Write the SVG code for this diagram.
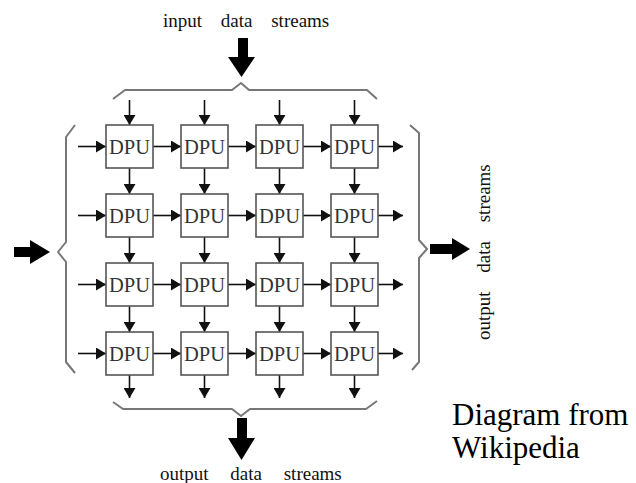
<svg xmlns="http://www.w3.org/2000/svg" width="636" height="483" viewBox="0 0 636 483">
<style>
.box{fill:#fff;stroke:#555;stroke-width:1.6}
.lbl{font-family:"Liberation Serif","Times New Roman","DejaVu Serif",serif;font-size:22px;fill:#333;text-anchor:middle}
.arr{stroke:#111;stroke-width:1.6;fill:none;marker-end:url(#ah)}
.brace{stroke:#777;stroke-width:2;fill:none;stroke-linejoin:round}
.big{fill:#000}
.cap{font-family:"Liberation Serif","Times New Roman","DejaVu Serif",serif;font-size:19px;fill:#111;word-spacing:14px}
.note{font-family:"Liberation Serif","Times New Roman","DejaVu Serif",serif;font-size:31px;fill:#000}
</style>
<defs>
<marker id="ah" markerUnits="userSpaceOnUse" markerWidth="11" markerHeight="12" refX="10" refY="6" orient="auto">
<path d="M0,0 L10,6 L0,12 Z" fill="#111"/>
</marker>
</defs>
<rect width="636" height="483" fill="#fff"/>

<text class="cap" x="163" y="27">input data streams</text>
<text class="cap" x="160" y="480" style="word-spacing:17px">output data streams</text>
<text class="cap" transform="translate(490,340) rotate(-90)">output data streams</text>
<text class="note" x="452" y="425">Diagram from</text>
<text class="note" x="452" y="458">Wikipedia</text>

<g id="bigarrows">
<polygon class="big" points="238,38 248,38 248,57 255,57 241.5,77 228,57 238,57"/>
<polygon class="big" points="237,418 247,418 247,438 255,438 241.5,460 228,438 237,438"/>
<polygon class="big" points="14,247 30,247 30,240 50,252 30,264 30,257 14,257"/>
<polygon class="big" points="430,244 452,244 452,238 470,249 452,260 452,254 430,254"/>
</g>

<g id="braces">
<path class="brace" d="M113,99 L125,90 L232,90 L241,83 L249,90 L367,90 L377,99"/>
<path class="brace" d="M113,402 L123,409 L232,409 L241,416 L250,409 L366,409 L377,401"/>
<path class="brace" d="M75,125 L66,137 L66,242 L58,252 L66,262 L66,362 L75,373"/>
<path class="brace" d="M410,125 L419,133 L419,240 L427,249 L419,258 L419,362 L412,370"/>
</g>

<g id="connectors">
<line class="arr" x1="129.5" y1="100" x2="129.5" y2="125"/>
<line class="arr" x1="204.5" y1="100" x2="204.5" y2="125"/>
<line class="arr" x1="279.5" y1="100" x2="279.5" y2="125"/>
<line class="arr" x1="354.5" y1="100" x2="354.5" y2="125"/>
<line class="arr" x1="129.5" y1="168" x2="129.5" y2="194"/>
<line class="arr" x1="204.5" y1="168" x2="204.5" y2="194"/>
<line class="arr" x1="279.5" y1="168" x2="279.5" y2="194"/>
<line class="arr" x1="354.5" y1="168" x2="354.5" y2="194"/>
<line class="arr" x1="129.5" y1="237" x2="129.5" y2="263"/>
<line class="arr" x1="204.5" y1="237" x2="204.5" y2="263"/>
<line class="arr" x1="279.5" y1="237" x2="279.5" y2="263"/>
<line class="arr" x1="354.5" y1="237" x2="354.5" y2="263"/>
<line class="arr" x1="129.5" y1="306" x2="129.5" y2="332"/>
<line class="arr" x1="204.5" y1="306" x2="204.5" y2="332"/>
<line class="arr" x1="279.5" y1="306" x2="279.5" y2="332"/>
<line class="arr" x1="354.5" y1="306" x2="354.5" y2="332"/>
<line class="arr" x1="129.5" y1="375" x2="129.5" y2="398"/>
<line class="arr" x1="204.5" y1="375" x2="204.5" y2="398"/>
<line class="arr" x1="279.5" y1="375" x2="279.5" y2="398"/>
<line class="arr" x1="354.5" y1="375" x2="354.5" y2="398"/>

<line class="arr" x1="78" y1="146.5" x2="106" y2="146.5"/>
<line class="arr" x1="153" y1="146.5" x2="181" y2="146.5"/>
<line class="arr" x1="228" y1="146.5" x2="256" y2="146.5"/>
<line class="arr" x1="303" y1="146.5" x2="331" y2="146.5"/>
<line class="arr" x1="378" y1="146.5" x2="403" y2="146.5"/>
<line class="arr" x1="78" y1="215.5" x2="106" y2="215.5"/>
<line class="arr" x1="153" y1="215.5" x2="181" y2="215.5"/>
<line class="arr" x1="228" y1="215.5" x2="256" y2="215.5"/>
<line class="arr" x1="303" y1="215.5" x2="331" y2="215.5"/>
<line class="arr" x1="378" y1="215.5" x2="403" y2="215.5"/>
<line class="arr" x1="78" y1="284.5" x2="106" y2="284.5"/>
<line class="arr" x1="153" y1="284.5" x2="181" y2="284.5"/>
<line class="arr" x1="228" y1="284.5" x2="256" y2="284.5"/>
<line class="arr" x1="303" y1="284.5" x2="331" y2="284.5"/>
<line class="arr" x1="378" y1="284.5" x2="403" y2="284.5"/>
<line class="arr" x1="78" y1="353.5" x2="106" y2="353.5"/>
<line class="arr" x1="153" y1="353.5" x2="181" y2="353.5"/>
<line class="arr" x1="228" y1="353.5" x2="256" y2="353.5"/>
<line class="arr" x1="303" y1="353.5" x2="331" y2="353.5"/>
<line class="arr" x1="378" y1="353.5" x2="403" y2="353.5"/>
</g>

<g id="dpu11"><rect class="box" x="106" y="125" width="47" height="43"/><text class="lbl" x="129.5" y="154" textLength="41" lengthAdjust="spacingAndGlyphs">DPU</text></g>
<g id="dpu12"><rect class="box" x="181" y="125" width="47" height="43"/><text class="lbl" x="204.5" y="154" textLength="41" lengthAdjust="spacingAndGlyphs">DPU</text></g>
<g id="dpu13"><rect class="box" x="256" y="125" width="47" height="43"/><text class="lbl" x="279.5" y="154" textLength="41" lengthAdjust="spacingAndGlyphs">DPU</text></g>
<g id="dpu14"><rect class="box" x="331" y="125" width="47" height="43"/><text class="lbl" x="354.5" y="154" textLength="41" lengthAdjust="spacingAndGlyphs">DPU</text></g>
<g id="dpu21"><rect class="box" x="106" y="194" width="47" height="43"/><text class="lbl" x="129.5" y="223" textLength="41" lengthAdjust="spacingAndGlyphs">DPU</text></g>
<g id="dpu22"><rect class="box" x="181" y="194" width="47" height="43"/><text class="lbl" x="204.5" y="223" textLength="41" lengthAdjust="spacingAndGlyphs">DPU</text></g>
<g id="dpu23"><rect class="box" x="256" y="194" width="47" height="43"/><text class="lbl" x="279.5" y="223" textLength="41" lengthAdjust="spacingAndGlyphs">DPU</text></g>
<g id="dpu24"><rect class="box" x="331" y="194" width="47" height="43"/><text class="lbl" x="354.5" y="223" textLength="41" lengthAdjust="spacingAndGlyphs">DPU</text></g>
<g id="dpu31"><rect class="box" x="106" y="263" width="47" height="43"/><text class="lbl" x="129.5" y="292" textLength="41" lengthAdjust="spacingAndGlyphs">DPU</text></g>
<g id="dpu32"><rect class="box" x="181" y="263" width="47" height="43"/><text class="lbl" x="204.5" y="292" textLength="41" lengthAdjust="spacingAndGlyphs">DPU</text></g>
<g id="dpu33"><rect class="box" x="256" y="263" width="47" height="43"/><text class="lbl" x="279.5" y="292" textLength="41" lengthAdjust="spacingAndGlyphs">DPU</text></g>
<g id="dpu34"><rect class="box" x="331" y="263" width="47" height="43"/><text class="lbl" x="354.5" y="292" textLength="41" lengthAdjust="spacingAndGlyphs">DPU</text></g>
<g id="dpu41"><rect class="box" x="106" y="332" width="47" height="43"/><text class="lbl" x="129.5" y="361" textLength="41" lengthAdjust="spacingAndGlyphs">DPU</text></g>
<g id="dpu42"><rect class="box" x="181" y="332" width="47" height="43"/><text class="lbl" x="204.5" y="361" textLength="41" lengthAdjust="spacingAndGlyphs">DPU</text></g>
<g id="dpu43"><rect class="box" x="256" y="332" width="47" height="43"/><text class="lbl" x="279.5" y="361" textLength="41" lengthAdjust="spacingAndGlyphs">DPU</text></g>
<g id="dpu44"><rect class="box" x="331" y="332" width="47" height="43"/><text class="lbl" x="354.5" y="361" textLength="41" lengthAdjust="spacingAndGlyphs">DPU</text></g>
</svg>
